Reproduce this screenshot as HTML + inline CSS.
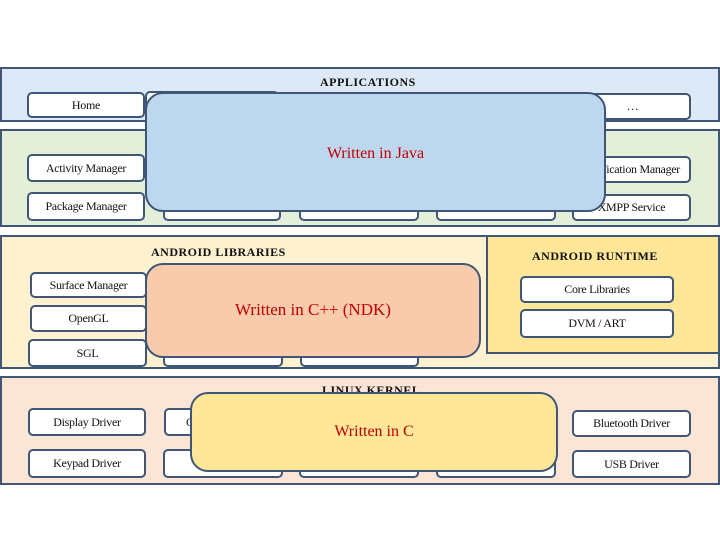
<!DOCTYPE html>
<html><head><meta charset="utf-8"><style>
body{margin:0;width:720px;height:540px;background:#fff;position:relative;overflow:hidden;font-family:"Liberation Serif",serif;}
div{position:absolute;box-sizing:border-box;}
.band{border:2px solid #3f5677;}
.b{background:#fff;border:2px solid #3f5677;border-radius:5px;font-size:12px;color:#111;display:flex;align-items:center;justify-content:center;white-space:nowrap;overflow:hidden;letter-spacing:-0.3px;}
.t{font-size:12px;font-weight:bold;letter-spacing:0.5px;color:#111;white-space:nowrap;}
.ov{border:2px solid #3f5677;border-radius:18px;display:flex;align-items:center;justify-content:center;color:#c00000;font-size:17px;}
</style></head><body>
<div class="band" style="left:0;top:67px;width:720px;height:55px;background:#dde9f6"></div>
<div class="t" style="left:320px;top:75px">APPLICATIONS</div>
<div class="b" style="left:27px;top:92px;width:118px;height:26px">Home</div>
<div class="b" style="left:145px;top:91px;width:134px;height:26px"></div>
<div class="b" style="left:574px;top:93px;width:117px;height:27px">…</div>

<div class="band" style="left:0;top:129px;width:720px;height:98px;background:#e3efd9"></div>
<div class="b" style="left:27px;top:154px;width:118px;height:28px">Activity Manager</div>
<div class="b" style="left:27px;top:192px;width:118px;height:29px">Package Manager</div>
<div class="b" style="left:163px;top:192px;width:118px;height:29px"></div>
<div class="b" style="left:299px;top:192px;width:120px;height:29px"></div>
<div class="b" style="left:436px;top:192px;width:120px;height:29px"></div>
<div class="b" style="left:572px;top:156px;width:119px;height:27px;justify-content:flex-end;padding-right:9px">Notification Manager</div>
<div class="b" style="left:572px;top:194px;width:119px;height:27px">XMPP Service</div>
<div class="ov" style="left:145px;top:92px;width:461px;height:120px;background:#bdd7ee;padding-top:4px;font-size:16px">Written in Java</div>

<div class="band" style="left:0;top:235px;width:720px;height:134px;background:#fdf1d0"></div>
<div style="left:486px;top:235px;width:234px;height:119px;background:#ffe699;border:2px solid #3f5677"></div>
<div class="t" style="left:151px;top:245px">ANDROID LIBRARIES</div>
<div class="t" style="left:532px;top:249px">ANDROID RUNTIME</div>
<div class="b" style="left:30px;top:272px;width:117px;height:26px">Surface Manager</div>
<div class="b" style="left:30px;top:305px;width:117px;height:27px">OpenGL</div>
<div class="b" style="left:28px;top:339px;width:119px;height:28px">SGL</div>
<div class="b" style="left:163px;top:340px;width:120px;height:27px"></div>
<div class="b" style="left:300px;top:340px;width:119px;height:27px"></div>
<div class="b" style="left:520px;top:276px;width:154px;height:27px">Core Libraries</div>
<div class="b" style="left:520px;top:309px;width:154px;height:29px">DVM / ART</div>
<div class="ov" style="left:145px;top:263px;width:336px;height:95px;background:#f8cbad;padding-bottom:2px">Written in C++ (NDK)</div>

<div class="band" style="left:0;top:376px;width:720px;height:109px;background:#fbe5d6"></div>
<div class="t" style="left:322px;top:383px">LINUX KERNEL</div>
<div class="b" style="left:28px;top:408px;width:118px;height:28px">Display Driver</div>
<div class="b" style="left:28px;top:449px;width:118px;height:29px">Keypad Driver</div>
<div class="b" style="left:164px;top:408px;width:120px;height:28px;justify-content:flex-start;padding-left:20px">C</div>
<div class="b" style="left:163px;top:449px;width:120px;height:29px"></div>
<div class="b" style="left:299px;top:449px;width:120px;height:29px"></div>
<div class="b" style="left:436px;top:449px;width:120px;height:29px"></div>
<div class="b" style="left:572px;top:410px;width:119px;height:27px">Bluetooth Driver</div>
<div class="b" style="left:572px;top:450px;width:119px;height:28px">USB Driver</div>
<div class="ov" style="left:190px;top:392px;width:368px;height:80px;background:#ffe699;font-size:16px">Written in C</div>
</body></html>
